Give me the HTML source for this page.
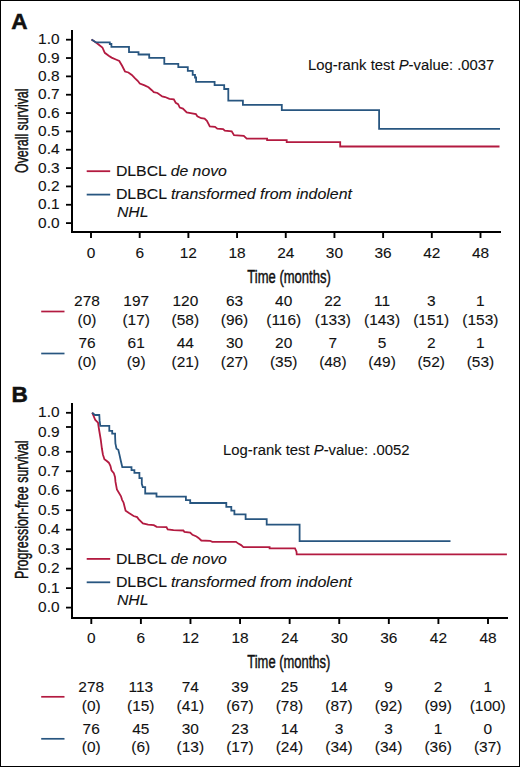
<!DOCTYPE html>
<html><head><meta charset="utf-8"><title>Kaplan-Meier survival curves</title>
<style>
html,body{margin:0;padding:0;background:#fff;}
svg{display:block;}
text{font-family:"Liberation Sans", sans-serif;fill:#111;stroke:#111;stroke-width:0.1px;}
.cond{stroke-width:0.45px;}
</style></head>
<body>
<svg width="520" height="767" viewBox="0 0 520 767">
<rect x="0" y="0" width="520" height="767" fill="#fff"/>
<rect x="0.5" y="0.5" width="519" height="766" fill="none" stroke="#000" stroke-width="1"/>
<text x="11.20" y="29.40" font-size="22.6" font-weight="bold" style="stroke-width:0.5px">A</text>
<line x1="72.00" y1="30.00" x2="72.00" y2="233.00" stroke="#000" stroke-width="2"/>
<line x1="71.00" y1="232.00" x2="501.00" y2="232.00" stroke="#000" stroke-width="2"/>
<line x1="66.00" y1="39.70" x2="72.00" y2="39.70" stroke="#000" stroke-width="1.8"/>
<text x="59.60" y="44.40" font-size="14.3" text-anchor="end" transform="translate(59.60 0) scale(1.08 1) translate(-59.60 0)" >1.0</text>
<line x1="66.00" y1="58.04" x2="72.00" y2="58.04" stroke="#000" stroke-width="1.8"/>
<text x="59.60" y="62.74" font-size="14.3" text-anchor="end" transform="translate(59.60 0) scale(1.08 1) translate(-59.60 0)" >0.9</text>
<line x1="66.00" y1="76.38" x2="72.00" y2="76.38" stroke="#000" stroke-width="1.8"/>
<text x="59.60" y="81.08" font-size="14.3" text-anchor="end" transform="translate(59.60 0) scale(1.08 1) translate(-59.60 0)" >0.8</text>
<line x1="66.00" y1="94.72" x2="72.00" y2="94.72" stroke="#000" stroke-width="1.8"/>
<text x="59.60" y="99.42" font-size="14.3" text-anchor="end" transform="translate(59.60 0) scale(1.08 1) translate(-59.60 0)" >0.7</text>
<line x1="66.00" y1="113.06" x2="72.00" y2="113.06" stroke="#000" stroke-width="1.8"/>
<text x="59.60" y="117.76" font-size="14.3" text-anchor="end" transform="translate(59.60 0) scale(1.08 1) translate(-59.60 0)" >0.6</text>
<line x1="66.00" y1="131.40" x2="72.00" y2="131.40" stroke="#000" stroke-width="1.8"/>
<text x="59.60" y="136.10" font-size="14.3" text-anchor="end" transform="translate(59.60 0) scale(1.08 1) translate(-59.60 0)" >0.5</text>
<line x1="66.00" y1="149.74" x2="72.00" y2="149.74" stroke="#000" stroke-width="1.8"/>
<text x="59.60" y="154.44" font-size="14.3" text-anchor="end" transform="translate(59.60 0) scale(1.08 1) translate(-59.60 0)" >0.4</text>
<line x1="66.00" y1="168.08" x2="72.00" y2="168.08" stroke="#000" stroke-width="1.8"/>
<text x="59.60" y="172.78" font-size="14.3" text-anchor="end" transform="translate(59.60 0) scale(1.08 1) translate(-59.60 0)" >0.3</text>
<line x1="66.00" y1="186.42" x2="72.00" y2="186.42" stroke="#000" stroke-width="1.8"/>
<text x="59.60" y="191.12" font-size="14.3" text-anchor="end" transform="translate(59.60 0) scale(1.08 1) translate(-59.60 0)" >0.2</text>
<line x1="66.00" y1="204.76" x2="72.00" y2="204.76" stroke="#000" stroke-width="1.8"/>
<text x="59.60" y="209.46" font-size="14.3" text-anchor="end" transform="translate(59.60 0) scale(1.08 1) translate(-59.60 0)" >0.1</text>
<line x1="66.00" y1="223.10" x2="72.00" y2="223.10" stroke="#000" stroke-width="1.8"/>
<text x="59.60" y="227.80" font-size="14.3" text-anchor="end" transform="translate(59.60 0) scale(1.08 1) translate(-59.60 0)" >0.0</text>
<line x1="91.00" y1="233.00" x2="91.00" y2="238.00" stroke="#000" stroke-width="1.9"/>
<text x="91.00" y="257.60" font-size="14.3" text-anchor="middle" transform="translate(91.00 0) scale(1.08 1) translate(-91.00 0)" >0</text>
<line x1="139.69" y1="233.00" x2="139.69" y2="238.00" stroke="#000" stroke-width="1.9"/>
<text x="139.69" y="257.60" font-size="14.3" text-anchor="middle" transform="translate(139.69 0) scale(1.08 1) translate(-139.69 0)" >6</text>
<line x1="188.38" y1="233.00" x2="188.38" y2="238.00" stroke="#000" stroke-width="1.9"/>
<text x="188.38" y="257.60" font-size="14.3" text-anchor="middle" transform="translate(188.38 0) scale(1.08 1) translate(-188.38 0)" >12</text>
<line x1="237.06" y1="233.00" x2="237.06" y2="238.00" stroke="#000" stroke-width="1.9"/>
<text x="237.06" y="257.60" font-size="14.3" text-anchor="middle" transform="translate(237.06 0) scale(1.08 1) translate(-237.06 0)" >18</text>
<line x1="285.75" y1="233.00" x2="285.75" y2="238.00" stroke="#000" stroke-width="1.9"/>
<text x="285.75" y="257.60" font-size="14.3" text-anchor="middle" transform="translate(285.75 0) scale(1.08 1) translate(-285.75 0)" >24</text>
<line x1="334.44" y1="233.00" x2="334.44" y2="238.00" stroke="#000" stroke-width="1.9"/>
<text x="334.44" y="257.60" font-size="14.3" text-anchor="middle" transform="translate(334.44 0) scale(1.08 1) translate(-334.44 0)" >30</text>
<line x1="383.12" y1="233.00" x2="383.12" y2="238.00" stroke="#000" stroke-width="1.9"/>
<text x="383.12" y="257.60" font-size="14.3" text-anchor="middle" transform="translate(383.12 0) scale(1.08 1) translate(-383.12 0)" >36</text>
<line x1="431.81" y1="233.00" x2="431.81" y2="238.00" stroke="#000" stroke-width="1.9"/>
<text x="431.81" y="257.60" font-size="14.3" text-anchor="middle" transform="translate(431.81 0) scale(1.08 1) translate(-431.81 0)" >42</text>
<line x1="480.50" y1="233.00" x2="480.50" y2="238.00" stroke="#000" stroke-width="1.9"/>
<text x="480.50" y="257.60" font-size="14.3" text-anchor="middle" transform="translate(480.50 0) scale(1.08 1) translate(-480.50 0)" >48</text>
<text x="247.30" y="282.70" font-size="18" textLength="83.50" lengthAdjust="spacingAndGlyphs" class="cond">Time (months)</text>
<text class="cond" transform="translate(27.6 172.9) rotate(-90)" font-size="18" textLength="84.3" lengthAdjust="spacingAndGlyphs">Overall survival</text>
<line x1="86.70" y1="171.20" x2="110.20" y2="171.20" stroke="#b31a40" stroke-width="1.8"/>
<line x1="86.70" y1="194.60" x2="110.20" y2="194.60" stroke="#285680" stroke-width="1.8"/>
<text x="115.90" y="175.50" font-size="14.5" textLength="111.00" lengthAdjust="spacingAndGlyphs" >DLBCL <tspan font-style="italic">de novo</tspan></text>
<text x="115.90" y="198.70" font-size="14.5" textLength="236.00" lengthAdjust="spacingAndGlyphs" >DLBCL <tspan font-style="italic">transformed from indolent</tspan></text>
<text x="117.00" y="217.00" font-size="14.5" font-style="italic" textLength="31.50" lengthAdjust="spacingAndGlyphs" >NHL</text>
<text x="308.00" y="70.30" font-size="14" textLength="186.30" lengthAdjust="spacingAndGlyphs" >Log-rank test <tspan font-style="italic">P</tspan>-value: .0037</text>
<path d="M91.5 39.6 L96.0 42.5 L97.6 43.7 L102.4 47.5 L104.8 52.8 L108.7 55.7 L111.6 57.6 L115.9 59.5 L119.3 61.0 L122.1 65.8 L125.0 71.5 L128.4 72.5 L131.8 74.9 L135.1 78.3 L137.9 81.0 L139.8 83.5 L144.6 85.4 L148.5 87.3 L151.8 90.2 L153.8 92.1 L157.5 93.0 L162.2 96.5 L165.1 97.0 L169.4 98.9 L173.8 99.4 L175.7 102.8 L178.1 104.2 L179.8 107.6 L182.9 108.6 L186.7 112.4 L190.6 113.1 L195.9 114.0 L197.3 116.2 L201.2 118.2 L204.6 118.5 L206.9 120.8 L209.8 126.3 L215.0 126.8 L217.3 128.6 L223.1 129.1 L224.8 130.6 L231.7 131.4 L234.0 135.2 L243.8 135.8 L246.7 138.6 H267.1 V140.2 H286.7 V142.1 H340.2 V146.5 H499.5" fill="none" stroke="#b31a40" stroke-width="1.8" stroke-linejoin="miter" stroke-linecap="butt"/>
<path d="M91.5 39.6 L96 42.4 H109.8 V44 H111.4 V46.8 H129 V52.2 H138.5 V54.5 H149.2 V57.8 H164.3 V63.9 H178.3 V67.2 H187.8 V70.9 H192.7 V74.8 H195 V77.5 H196.1 V81.8 H214.6 V85.2 H224.2 V89 H228.3 V100.6 H242.9 V104.9 H281.8 V110.1 H379.1 V128.9 H500" fill="none" stroke="#285680" stroke-width="1.8" stroke-linejoin="miter" stroke-linecap="butt"/>
<line x1="41.20" y1="311.50" x2="64.50" y2="311.50" stroke="#b31a40" stroke-width="1.7"/>
<line x1="41.20" y1="353.50" x2="64.50" y2="353.50" stroke="#285680" stroke-width="1.7"/>
<text x="87.00" y="306.20" font-size="14.3" text-anchor="middle" transform="translate(87.00 0) scale(1.08 1) translate(-87.00 0)" >278</text>
<text x="136.18" y="306.20" font-size="14.3" text-anchor="middle" transform="translate(136.18 0) scale(1.08 1) translate(-136.18 0)" >197</text>
<text x="185.35" y="306.20" font-size="14.3" text-anchor="middle" transform="translate(185.35 0) scale(1.08 1) translate(-185.35 0)" >120</text>
<text x="234.52" y="306.20" font-size="14.3" text-anchor="middle" transform="translate(234.52 0) scale(1.08 1) translate(-234.52 0)" >63</text>
<text x="283.70" y="306.20" font-size="14.3" text-anchor="middle" transform="translate(283.70 0) scale(1.08 1) translate(-283.70 0)" >40</text>
<text x="332.88" y="306.20" font-size="14.3" text-anchor="middle" transform="translate(332.88 0) scale(1.08 1) translate(-332.88 0)" >22</text>
<text x="382.05" y="306.20" font-size="14.3" text-anchor="middle" transform="translate(382.05 0) scale(1.08 1) translate(-382.05 0)" >11</text>
<text x="431.22" y="306.20" font-size="14.3" text-anchor="middle" transform="translate(431.22 0) scale(1.08 1) translate(-431.22 0)" >3</text>
<text x="480.40" y="306.20" font-size="14.3" text-anchor="middle" transform="translate(480.40 0) scale(1.08 1) translate(-480.40 0)" >1</text>
<text x="87.00" y="324.80" font-size="14.3" text-anchor="middle" transform="translate(87.00 0) scale(1.08 1) translate(-87.00 0)" >(0)</text>
<text x="136.18" y="324.80" font-size="14.3" text-anchor="middle" transform="translate(136.18 0) scale(1.08 1) translate(-136.18 0)" >(17)</text>
<text x="185.35" y="324.80" font-size="14.3" text-anchor="middle" transform="translate(185.35 0) scale(1.08 1) translate(-185.35 0)" >(58)</text>
<text x="234.52" y="324.80" font-size="14.3" text-anchor="middle" transform="translate(234.52 0) scale(1.08 1) translate(-234.52 0)" >(96)</text>
<text x="283.70" y="324.80" font-size="14.3" text-anchor="middle" transform="translate(283.70 0) scale(1.08 1) translate(-283.70 0)" >(116)</text>
<text x="332.88" y="324.80" font-size="14.3" text-anchor="middle" transform="translate(332.88 0) scale(1.08 1) translate(-332.88 0)" >(133)</text>
<text x="382.05" y="324.80" font-size="14.3" text-anchor="middle" transform="translate(382.05 0) scale(1.08 1) translate(-382.05 0)" >(143)</text>
<text x="431.22" y="324.80" font-size="14.3" text-anchor="middle" transform="translate(431.22 0) scale(1.08 1) translate(-431.22 0)" >(151)</text>
<text x="480.40" y="324.80" font-size="14.3" text-anchor="middle" transform="translate(480.40 0) scale(1.08 1) translate(-480.40 0)" >(153)</text>
<text x="87.00" y="348.20" font-size="14.3" text-anchor="middle" transform="translate(87.00 0) scale(1.08 1) translate(-87.00 0)" >76</text>
<text x="136.18" y="348.20" font-size="14.3" text-anchor="middle" transform="translate(136.18 0) scale(1.08 1) translate(-136.18 0)" >61</text>
<text x="185.35" y="348.20" font-size="14.3" text-anchor="middle" transform="translate(185.35 0) scale(1.08 1) translate(-185.35 0)" >44</text>
<text x="234.52" y="348.20" font-size="14.3" text-anchor="middle" transform="translate(234.52 0) scale(1.08 1) translate(-234.52 0)" >30</text>
<text x="283.70" y="348.20" font-size="14.3" text-anchor="middle" transform="translate(283.70 0) scale(1.08 1) translate(-283.70 0)" >20</text>
<text x="332.88" y="348.20" font-size="14.3" text-anchor="middle" transform="translate(332.88 0) scale(1.08 1) translate(-332.88 0)" >7</text>
<text x="382.05" y="348.20" font-size="14.3" text-anchor="middle" transform="translate(382.05 0) scale(1.08 1) translate(-382.05 0)" >5</text>
<text x="431.22" y="348.20" font-size="14.3" text-anchor="middle" transform="translate(431.22 0) scale(1.08 1) translate(-431.22 0)" >2</text>
<text x="480.40" y="348.20" font-size="14.3" text-anchor="middle" transform="translate(480.40 0) scale(1.08 1) translate(-480.40 0)" >1</text>
<text x="87.00" y="367.10" font-size="14.3" text-anchor="middle" transform="translate(87.00 0) scale(1.08 1) translate(-87.00 0)" >(0)</text>
<text x="136.18" y="367.10" font-size="14.3" text-anchor="middle" transform="translate(136.18 0) scale(1.08 1) translate(-136.18 0)" >(9)</text>
<text x="185.35" y="367.10" font-size="14.3" text-anchor="middle" transform="translate(185.35 0) scale(1.08 1) translate(-185.35 0)" >(21)</text>
<text x="234.52" y="367.10" font-size="14.3" text-anchor="middle" transform="translate(234.52 0) scale(1.08 1) translate(-234.52 0)" >(27)</text>
<text x="283.70" y="367.10" font-size="14.3" text-anchor="middle" transform="translate(283.70 0) scale(1.08 1) translate(-283.70 0)" >(35)</text>
<text x="332.88" y="367.10" font-size="14.3" text-anchor="middle" transform="translate(332.88 0) scale(1.08 1) translate(-332.88 0)" >(48)</text>
<text x="382.05" y="367.10" font-size="14.3" text-anchor="middle" transform="translate(382.05 0) scale(1.08 1) translate(-382.05 0)" >(49)</text>
<text x="431.22" y="367.10" font-size="14.3" text-anchor="middle" transform="translate(431.22 0) scale(1.08 1) translate(-431.22 0)" >(52)</text>
<text x="480.40" y="367.10" font-size="14.3" text-anchor="middle" transform="translate(480.40 0) scale(1.08 1) translate(-480.40 0)" >(53)</text>
<text x="11.50" y="402.20" font-size="22.6" font-weight="bold" style="stroke-width:0.5px">B</text>
<line x1="72.00" y1="403.00" x2="72.00" y2="619.00" stroke="#000" stroke-width="2"/>
<line x1="71.00" y1="618.00" x2="508.00" y2="618.00" stroke="#000" stroke-width="2"/>
<line x1="66.00" y1="412.80" x2="72.00" y2="412.80" stroke="#000" stroke-width="1.8"/>
<text x="59.60" y="417.50" font-size="14.3" text-anchor="end" transform="translate(59.60 0) scale(1.08 1) translate(-59.60 0)" >1.0</text>
<line x1="66.00" y1="427.00" x2="72.00" y2="427.00" stroke="#000" stroke-width="1.8"/>
<text x="59.60" y="436.98" font-size="14.3" text-anchor="end" transform="translate(59.60 0) scale(1.08 1) translate(-59.60 0)" >0.9</text>
<line x1="66.00" y1="451.76" x2="72.00" y2="451.76" stroke="#000" stroke-width="1.8"/>
<text x="59.60" y="456.46" font-size="14.3" text-anchor="end" transform="translate(59.60 0) scale(1.08 1) translate(-59.60 0)" >0.8</text>
<line x1="66.00" y1="471.24" x2="72.00" y2="471.24" stroke="#000" stroke-width="1.8"/>
<text x="59.60" y="475.94" font-size="14.3" text-anchor="end" transform="translate(59.60 0) scale(1.08 1) translate(-59.60 0)" >0.7</text>
<line x1="66.00" y1="490.72" x2="72.00" y2="490.72" stroke="#000" stroke-width="1.8"/>
<text x="59.60" y="495.42" font-size="14.3" text-anchor="end" transform="translate(59.60 0) scale(1.08 1) translate(-59.60 0)" >0.6</text>
<line x1="66.00" y1="510.20" x2="72.00" y2="510.20" stroke="#000" stroke-width="1.8"/>
<text x="59.60" y="514.90" font-size="14.3" text-anchor="end" transform="translate(59.60 0) scale(1.08 1) translate(-59.60 0)" >0.5</text>
<line x1="66.00" y1="529.68" x2="72.00" y2="529.68" stroke="#000" stroke-width="1.8"/>
<text x="59.60" y="534.38" font-size="14.3" text-anchor="end" transform="translate(59.60 0) scale(1.08 1) translate(-59.60 0)" >0.4</text>
<line x1="66.00" y1="549.16" x2="72.00" y2="549.16" stroke="#000" stroke-width="1.8"/>
<text x="59.60" y="553.86" font-size="14.3" text-anchor="end" transform="translate(59.60 0) scale(1.08 1) translate(-59.60 0)" >0.3</text>
<line x1="66.00" y1="568.64" x2="72.00" y2="568.64" stroke="#000" stroke-width="1.8"/>
<text x="59.60" y="573.34" font-size="14.3" text-anchor="end" transform="translate(59.60 0) scale(1.08 1) translate(-59.60 0)" >0.2</text>
<line x1="66.00" y1="588.12" x2="72.00" y2="588.12" stroke="#000" stroke-width="1.8"/>
<text x="59.60" y="592.82" font-size="14.3" text-anchor="end" transform="translate(59.60 0) scale(1.08 1) translate(-59.60 0)" >0.1</text>
<line x1="66.00" y1="607.60" x2="72.00" y2="607.60" stroke="#000" stroke-width="1.8"/>
<text x="59.60" y="612.30" font-size="14.3" text-anchor="end" transform="translate(59.60 0) scale(1.08 1) translate(-59.60 0)" >0.0</text>
<line x1="91.30" y1="619.00" x2="91.30" y2="624.00" stroke="#000" stroke-width="1.9"/>
<text x="91.30" y="642.80" font-size="14.3" text-anchor="middle" transform="translate(91.30 0) scale(1.08 1) translate(-91.30 0)" >0</text>
<line x1="140.89" y1="619.00" x2="140.89" y2="624.00" stroke="#000" stroke-width="1.9"/>
<text x="140.89" y="642.80" font-size="14.3" text-anchor="middle" transform="translate(140.89 0) scale(1.08 1) translate(-140.89 0)" >6</text>
<line x1="190.47" y1="619.00" x2="190.47" y2="624.00" stroke="#000" stroke-width="1.9"/>
<text x="190.47" y="642.80" font-size="14.3" text-anchor="middle" transform="translate(190.47 0) scale(1.08 1) translate(-190.47 0)" >12</text>
<line x1="240.06" y1="619.00" x2="240.06" y2="624.00" stroke="#000" stroke-width="1.9"/>
<text x="240.06" y="642.80" font-size="14.3" text-anchor="middle" transform="translate(240.06 0) scale(1.08 1) translate(-240.06 0)" >18</text>
<line x1="289.65" y1="619.00" x2="289.65" y2="624.00" stroke="#000" stroke-width="1.9"/>
<text x="289.65" y="642.80" font-size="14.3" text-anchor="middle" transform="translate(289.65 0) scale(1.08 1) translate(-289.65 0)" >24</text>
<line x1="339.24" y1="619.00" x2="339.24" y2="624.00" stroke="#000" stroke-width="1.9"/>
<text x="339.24" y="642.80" font-size="14.3" text-anchor="middle" transform="translate(339.24 0) scale(1.08 1) translate(-339.24 0)" >30</text>
<line x1="388.82" y1="619.00" x2="388.82" y2="624.00" stroke="#000" stroke-width="1.9"/>
<text x="388.82" y="642.80" font-size="14.3" text-anchor="middle" transform="translate(388.82 0) scale(1.08 1) translate(-388.82 0)" >36</text>
<line x1="438.41" y1="619.00" x2="438.41" y2="624.00" stroke="#000" stroke-width="1.9"/>
<text x="438.41" y="642.80" font-size="14.3" text-anchor="middle" transform="translate(438.41 0) scale(1.08 1) translate(-438.41 0)" >42</text>
<line x1="488.00" y1="619.00" x2="488.00" y2="624.00" stroke="#000" stroke-width="1.9"/>
<text x="488.00" y="642.80" font-size="14.3" text-anchor="middle" transform="translate(488.00 0) scale(1.08 1) translate(-488.00 0)" >48</text>
<text x="247.30" y="668.00" font-size="18" textLength="83.00" lengthAdjust="spacingAndGlyphs" class="cond">Time (months)</text>
<text class="cond" transform="translate(27.7 578.9) rotate(-90)" font-size="18" textLength="138.5" lengthAdjust="spacingAndGlyphs">Progression-free survival</text>
<line x1="86.70" y1="558.90" x2="110.20" y2="558.90" stroke="#b31a40" stroke-width="1.8"/>
<line x1="86.70" y1="582.30" x2="110.20" y2="582.30" stroke="#285680" stroke-width="1.8"/>
<text x="115.90" y="564.20" font-size="14.5" textLength="111.00" lengthAdjust="spacingAndGlyphs" >DLBCL <tspan font-style="italic">de novo</tspan></text>
<text x="115.90" y="586.80" font-size="14.5" textLength="236.00" lengthAdjust="spacingAndGlyphs" >DLBCL <tspan font-style="italic">transformed from indolent</tspan></text>
<text x="117.00" y="605.00" font-size="14.5" font-style="italic" textLength="31.50" lengthAdjust="spacingAndGlyphs" >NHL</text>
<text x="223.10" y="455.20" font-size="14" textLength="186.30" lengthAdjust="spacingAndGlyphs" >Log-rank test <tspan font-style="italic">P</tspan>-value: .0052</text>
<path d="M92.2 412.7 L95.3 420.0 L98.0 422.7 L98.8 428.0 L100.8 440.0 L101.9 448.5 L102.9 454.5 L104.4 459.2 L106.5 460.8 L108.8 462.7 L110.4 465.8 L111.5 470.4 L113.8 473.1 L115.0 476.9 L115.5 481.9 L116.9 489.4 L121.0 496.3 L122.1 499.8 L123.6 502.7 L125.6 510.8 L129.0 513.1 L133.6 516.0 L137.1 517.1 L138.8 519.4 L142.9 523.4 L148.1 524.6 L153.8 525.2 L156.7 526.9 L166.5 527.1 L167.7 529.4 L173.5 530.2 L183.3 530.5 L184.4 531.9 L190.2 532.5 L192.5 534.8 L196.5 536.5 L198.5 537.9 L201.3 540.5 L210.0 540.8 L212.3 541.9 L236.0 541.9 L238.3 543.6 L241.1 545.1 L243.4 547.1 H269.6 V548.3 H295 L296.5 551.7 L296.7 554.4 H506.9" fill="none" stroke="#b31a40" stroke-width="1.8" stroke-linejoin="miter" stroke-linecap="butt"/>
<path d="M92.2 412.7 L94.9 415 H99.3 L99.6 420.4 L100.3 425.9 H109.3 V430.8 H112.2 V433.7 H115.1 V436.5 L115.4 443.5 L116.5 448.7 L118.3 449.8 L119.4 454.4 L120.8 460.8 L122.3 467.2 H131.5 V470.2 H134.4 V472.8 H139.4 V478.1 H141.8 V483.8 L142.8 487.2 H145.2 V493.5 H156.5 V496.6 H185.9 V500.2 H190.2 V503.0 H226.3 V506.8 H231.3 V510.6 H234.4 V514.3 H245.6 V519.2 H266.7 V524.7 H299.6 V541.1 H450.5" fill="none" stroke="#285680" stroke-width="1.8" stroke-linejoin="miter" stroke-linecap="butt"/>
<line x1="41.20" y1="696.80" x2="64.50" y2="696.80" stroke="#b31a40" stroke-width="1.7"/>
<line x1="41.20" y1="738.80" x2="64.50" y2="738.80" stroke="#285680" stroke-width="1.7"/>
<text x="91.20" y="692.30" font-size="14.3" text-anchor="middle" transform="translate(91.20 0) scale(1.08 1) translate(-91.20 0)" >278</text>
<text x="140.76" y="692.30" font-size="14.3" text-anchor="middle" transform="translate(140.76 0) scale(1.08 1) translate(-140.76 0)" >113</text>
<text x="190.32" y="692.30" font-size="14.3" text-anchor="middle" transform="translate(190.32 0) scale(1.08 1) translate(-190.32 0)" >74</text>
<text x="239.89" y="692.30" font-size="14.3" text-anchor="middle" transform="translate(239.89 0) scale(1.08 1) translate(-239.89 0)" >39</text>
<text x="289.45" y="692.30" font-size="14.3" text-anchor="middle" transform="translate(289.45 0) scale(1.08 1) translate(-289.45 0)" >25</text>
<text x="339.01" y="692.30" font-size="14.3" text-anchor="middle" transform="translate(339.01 0) scale(1.08 1) translate(-339.01 0)" >14</text>
<text x="388.57" y="692.30" font-size="14.3" text-anchor="middle" transform="translate(388.57 0) scale(1.08 1) translate(-388.57 0)" >9</text>
<text x="438.14" y="692.30" font-size="14.3" text-anchor="middle" transform="translate(438.14 0) scale(1.08 1) translate(-438.14 0)" >2</text>
<text x="487.70" y="692.30" font-size="14.3" text-anchor="middle" transform="translate(487.70 0) scale(1.08 1) translate(-487.70 0)" >1</text>
<text x="91.20" y="710.80" font-size="14.3" text-anchor="middle" transform="translate(91.20 0) scale(1.08 1) translate(-91.20 0)" >(0)</text>
<text x="140.76" y="710.80" font-size="14.3" text-anchor="middle" transform="translate(140.76 0) scale(1.08 1) translate(-140.76 0)" >(15)</text>
<text x="190.32" y="710.80" font-size="14.3" text-anchor="middle" transform="translate(190.32 0) scale(1.08 1) translate(-190.32 0)" >(41)</text>
<text x="239.89" y="710.80" font-size="14.3" text-anchor="middle" transform="translate(239.89 0) scale(1.08 1) translate(-239.89 0)" >(67)</text>
<text x="289.45" y="710.80" font-size="14.3" text-anchor="middle" transform="translate(289.45 0) scale(1.08 1) translate(-289.45 0)" >(78)</text>
<text x="339.01" y="710.80" font-size="14.3" text-anchor="middle" transform="translate(339.01 0) scale(1.08 1) translate(-339.01 0)" >(87)</text>
<text x="388.57" y="710.80" font-size="14.3" text-anchor="middle" transform="translate(388.57 0) scale(1.08 1) translate(-388.57 0)" >(92)</text>
<text x="438.14" y="710.80" font-size="14.3" text-anchor="middle" transform="translate(438.14 0) scale(1.08 1) translate(-438.14 0)" >(99)</text>
<text x="487.70" y="710.80" font-size="14.3" text-anchor="middle" transform="translate(487.70 0) scale(1.08 1) translate(-487.70 0)" >(100)</text>
<text x="91.20" y="734.30" font-size="14.3" text-anchor="middle" transform="translate(91.20 0) scale(1.08 1) translate(-91.20 0)" >76</text>
<text x="140.76" y="734.30" font-size="14.3" text-anchor="middle" transform="translate(140.76 0) scale(1.08 1) translate(-140.76 0)" >45</text>
<text x="190.32" y="734.30" font-size="14.3" text-anchor="middle" transform="translate(190.32 0) scale(1.08 1) translate(-190.32 0)" >30</text>
<text x="239.89" y="734.30" font-size="14.3" text-anchor="middle" transform="translate(239.89 0) scale(1.08 1) translate(-239.89 0)" >23</text>
<text x="289.45" y="734.30" font-size="14.3" text-anchor="middle" transform="translate(289.45 0) scale(1.08 1) translate(-289.45 0)" >14</text>
<text x="339.01" y="734.30" font-size="14.3" text-anchor="middle" transform="translate(339.01 0) scale(1.08 1) translate(-339.01 0)" >3</text>
<text x="388.57" y="734.30" font-size="14.3" text-anchor="middle" transform="translate(388.57 0) scale(1.08 1) translate(-388.57 0)" >3</text>
<text x="438.14" y="734.30" font-size="14.3" text-anchor="middle" transform="translate(438.14 0) scale(1.08 1) translate(-438.14 0)" >1</text>
<text x="487.70" y="734.30" font-size="14.3" text-anchor="middle" transform="translate(487.70 0) scale(1.08 1) translate(-487.70 0)" >0</text>
<text x="91.20" y="752.10" font-size="14.3" text-anchor="middle" transform="translate(91.20 0) scale(1.08 1) translate(-91.20 0)" >(0)</text>
<text x="140.76" y="752.10" font-size="14.3" text-anchor="middle" transform="translate(140.76 0) scale(1.08 1) translate(-140.76 0)" >(6)</text>
<text x="190.32" y="752.10" font-size="14.3" text-anchor="middle" transform="translate(190.32 0) scale(1.08 1) translate(-190.32 0)" >(13)</text>
<text x="239.89" y="752.10" font-size="14.3" text-anchor="middle" transform="translate(239.89 0) scale(1.08 1) translate(-239.89 0)" >(17)</text>
<text x="289.45" y="752.10" font-size="14.3" text-anchor="middle" transform="translate(289.45 0) scale(1.08 1) translate(-289.45 0)" >(24)</text>
<text x="339.01" y="752.10" font-size="14.3" text-anchor="middle" transform="translate(339.01 0) scale(1.08 1) translate(-339.01 0)" >(34)</text>
<text x="388.57" y="752.10" font-size="14.3" text-anchor="middle" transform="translate(388.57 0) scale(1.08 1) translate(-388.57 0)" >(34)</text>
<text x="438.14" y="752.10" font-size="14.3" text-anchor="middle" transform="translate(438.14 0) scale(1.08 1) translate(-438.14 0)" >(36)</text>
<text x="487.70" y="752.10" font-size="14.3" text-anchor="middle" transform="translate(487.70 0) scale(1.08 1) translate(-487.70 0)" >(37)</text>
</svg>
</body></html>
